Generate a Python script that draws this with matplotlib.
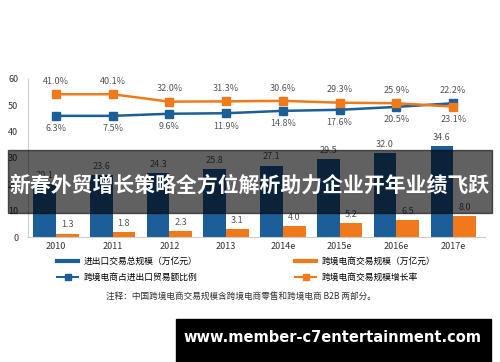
import matplotlib
matplotlib.use("Agg")
import matplotlib.pyplot as plt
from matplotlib.patches import Rectangle
from matplotlib.lines import Line2D
import numpy as np

plt.rcParams['font.family'] = ['Noto Sans CJK SC', 'DejaVu Sans']

years = ['2010', '2011', '2012', '2013', '2014e', '2015e', '2016e', '2017e']
trade_total = [20.1, 23.6, 24.3, 25.8, 27.1, 29.5, 32.0, 34.6]   # 万亿元
ecom_scale = [1.3, 1.8, 2.3, 3.1, 4.0, 5.2, 6.5, 8.0]            # 万亿元
# line positions as drawn on the chart (left-axis units), with their labels
share_pos = [46.0, 46.0, 46.8, 47.0, 47.9, 48.3, 49.4, 50.8]
growth_pos = [54.2, 54.2, 51.4, 51.5, 51.7, 51.0, 50.8, 49.5]
share_lbl = ['6.3%', '7.5%', '9.6%', '11.9%', '14.8%', '17.6%', '20.5%', '22.2%']
growth_lbl = ['41.0%', '40.1%', '32.0%', '31.3%', '30.6%', '29.3%', '25.9%', '23.1%']

blue = '#1b5e98'
orange = '#f07a1a'
grey = '#555555'

fig = plt.figure(figsize=(5, 3.62), dpi=100)
ax = fig.add_axes([0.056, 0.3453, 0.914, 0.4365])
x = np.arange(len(years))
w = 0.4

ax.bar(x - w / 2, trade_total, w, color=blue, zorder=2)
ax.bar(x + w / 2, ecom_scale, w, color=orange, zorder=2)
for i in range(len(years)):
    ax.annotate(f'{trade_total[i]:.1f}', (x[i] - w / 2, trade_total[i]), xytext=(0, 3),
                textcoords='offset points', ha='center', va='bottom', fontsize=6.5, color=grey)
    ax.annotate(f'{ecom_scale[i]:.1f}', (x[i] + w / 2, ecom_scale[i]), xytext=(0, 3),
                textcoords='offset points', ha='center', va='bottom', fontsize=6.5, color=grey)

ax.plot(x, share_pos, color=blue, lw=1.8, marker='s', ms=5.5, zorder=3)
ax.plot(x, growth_pos, color=orange, lw=1.8, marker='s', ms=5.5, zorder=3)
for i in range(len(years)):
    top = max(share_pos[i], growth_pos[i])
    bot = min(share_pos[i], growth_pos[i])
    # top row: growth labels, bottom row: share labels (as in the source)
    top_txt = growth_lbl[i] if i < 7 else share_lbl[i]
    bot_txt = share_lbl[i] if i < 7 else growth_lbl[i]
    ax.annotate(top_txt, (x[i], top), xytext=(0, 6), textcoords='offset points',
                ha='center', va='bottom', fontsize=6.5, color=grey)
    ax.annotate(bot_txt, (x[i], bot), xytext=(0, -6), textcoords='offset points',
                ha='center', va='top', fontsize=6.5, color=grey)

ax.set_xlim(-0.49, 7.56)
ax.set_ylim(0, 60)
ax.set_yticks(range(0, 61, 10))
ax.set_xticks(x)
ax.set_xticklabels(years)
ax.tick_params(axis='both', length=0, labelsize=6.5, colors='#333333')
ax.tick_params(axis='y', pad=7)
for s in ['top', 'right']:
    ax.spines[s].set_visible(False)
ax.spines['left'].set_color('#cccccc')
ax.spines['bottom'].set_color('#cccccc')

# two legend columns placed separately
h1 = [Line2D([], [], color=blue, lw=3),
      Line2D([], [], color=blue, lw=1.5, marker='s', ms=5)]
l1 = ['进出口交易总规模（万亿元）', '跨境电商占进出口贸易额比例']
h2 = [Line2D([], [], color=orange, lw=3),
      Line2D([], [], color=orange, lw=1.5, marker='s', ms=5)]
l2 = ['跨境电商交易规模（万亿元）', '跨境电商交易规模增长率']
for hh, ll, x0 in [(h1, l1, 57 / 500), (h2, l2, 295 / 500)]:
    fig.legend(hh, ll, loc='center left', bbox_to_anchor=(x0, 1 - 269.5 / 362),
               frameon=False, fontsize=6.3, handlelength=2.4, borderpad=0,
               borderaxespad=0, handletextpad=0.6, labelspacing=0.75)

fig.text(0.482, 1 - 296 / 362, '注释：中国跨境电商交易规模含跨境电商零售和跨境电商 B2B 两部分。',
         ha='center', va='center', fontsize=6.2, color='#333333')

# banner overlay
fig.patches.append(Rectangle((0.016, 1 - 213 / 362), 0.968, 63 / 362, transform=fig.transFigure,
                             color='black', alpha=0.62, zorder=5))
fig.text(0.5, 1 - 185 / 362, '新春外贸增长策略全方位解析助力企业开年业绩飞跃', ha='center', va='center',
         fontsize=15, fontweight='bold', color='white', zorder=6)

# watermark box
fig.patches.append(Rectangle((0.352, 0.0), 0.63, 43 / 362, transform=fig.transFigure,
                             color='black', zorder=5))
fig.text(0.664, 1 - 337 / 362, 'www.member-c7entertainment.com', ha='center', va='center',
         fontsize=10.5, fontweight='bold', color='white', family='DejaVu Sans', zorder=6)

fig.savefig('out.png', dpi=100)
